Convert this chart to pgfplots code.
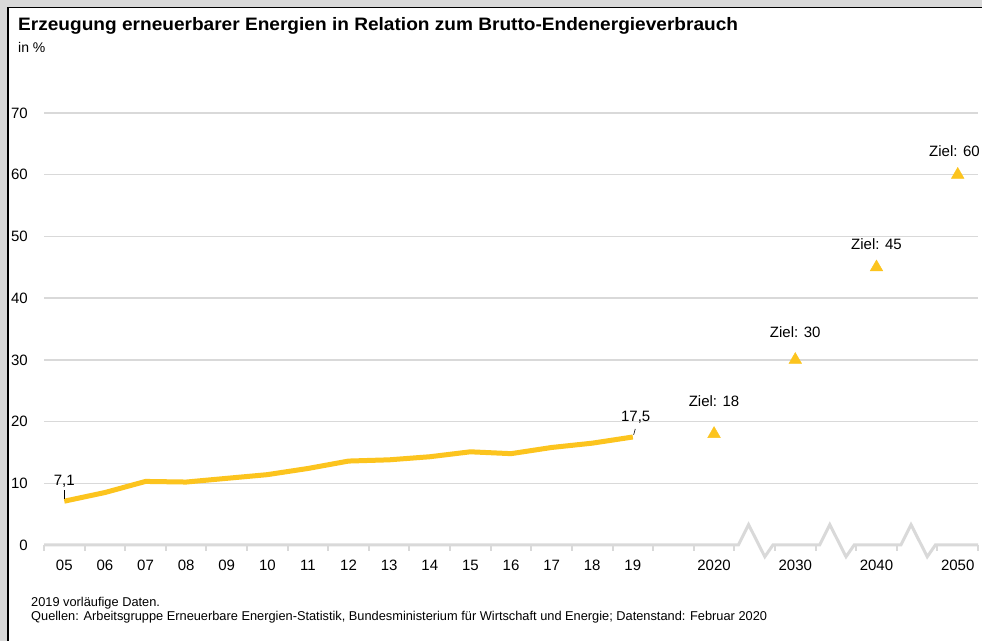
\documentclass[border=0pt]{standalone}
\usepackage{pgfplots}
\pgfplotsset{compat=1.18}
\usepackage{fontspec}
\setmainfont{Liberation Sans}
\definecolor{ylw}{RGB}{252,196,30}
\definecolor{lgray}{RGB}{217,217,217}
\definecolor{bggray}{RGB}{217,217,217}
\begin{document}
\begin{tikzpicture}[x=1bp,y=1bp]
\path[use as bounding box, clip] (0,0) rectangle (982,641);
\fill[bggray] (0,0) rectangle (982,641);
\filldraw[fill=white, draw=black, line width=1.5bp] (8,-10) rectangle (1000,633.5);
\node[anchor=base west, inner sep=0, font=\bfseries\fontsize{18bp}{20bp}\selectfont] at (18,610) {\scalebox{1.06}[1]{Erzeugung erneuerbarer Energien in Relation zum Brutto-Endenergieverbrauch}};
\node[anchor=base west, inner sep=0, font=\fontsize{14bp}{16bp}\selectfont] at (18,588) {in \%};
\begin{axis}[at={(44bp,96bp)}, anchor=south west, scale only axis,
  width=934bp, height=432bp,
  xmin=-0.5, xmax=22.5, ymin=0, ymax=70,
  clip=false,
  axis line style={draw=none},
  xtick={0,...,14,16,18,20,22},
  xticklabels={05,06,07,08,09,10,11,12,13,14,15,16,17,18,19,2020,2030,2040,2050},
  minor xtick={-0.5,0.5,...,22.5},
  ytick={10,20,...,70},
  extra y ticks={0}, extra y tick style={grid=none},
  ymajorgrids, grid style={lgray, line width=1.5bp},
  major tick length=0pt, minor tick length=6bp, tick align=outside,
  xtick pos=lower, ytick pos=left,
  minor tick style={lgray, line width=2bp},
  tick label style={font=\fontsize{15bp}{18bp}\selectfont, text=black},
  xticklabel style={anchor=base, inner sep=0pt, yshift=-26bp},
  yticklabel style={anchor=east, inner sep=0pt, xshift=-16bp},
  /pgf/number format/assume math mode=true,
]
\addplot[lgray, line width=3bp, mark=none] coordinates {(-0.5,0)(16.6,0)(16.85,3.3)(17.25,-1.9)(17.45,0)(18.6,0)(18.85,3.3)(19.25,-1.9)(19.45,0)(20.6,0)(20.85,3.3)(21.25,-1.9)(21.45,0)(22.5,0)};
\addplot[ylw, line width=5bp, line join=round, mark=none] coordinates {(0,7.1)(1,8.5)(2,10.3)(3,10.2)(4,10.8)(5,11.4)(6,12.4)(7,13.6)(8,13.8)(9,14.3)(10,15.1)(11,14.8)(12,15.8)(13,16.5)(14,17.5)};
\addplot[only marks, mark=triangle*, mark size=7.3bp, ylw] coordinates {(16,18)(18,30)(20,45)(22,60)};
\draw[black, line width=0.6bp] (axis cs:0,7.5) -- (axis cs:0,8.9);
\draw[black, line width=0.6bp] (axis cs:14.02,17.85) -- (axis cs:14.06,18.8);
\node[anchor=base, inner sep=0, font=\fontsize{15bp}{18bp}\selectfont] at (axis cs:0,9.7) {7,1};
\node[anchor=base, inner sep=0, font=\fontsize{15bp}{18bp}\selectfont] at (axis cs:14.07,19.98) {17,5};
\node[font=\fontsize{15bp}{18bp}\selectfont] at (axis cs:16,23.3) {Ziel: 18};
\node[font=\fontsize{15bp}{18bp}\selectfont] at (axis cs:18,34.5) {Ziel: 30};
\node[font=\fontsize{15bp}{18bp}\selectfont] at (axis cs:20,48.8) {Ziel: 45};
\node[anchor=east, inner sep=0, font=\fontsize{15bp}{18bp}\selectfont, xshift=2bp] at (axis cs:22.5,63.9) {Ziel: 60};
\end{axis}
\node[anchor=base west, inner sep=0, font=\fontsize{12.8bp}{14bp}\selectfont] at (31,34) {2019 vorläufige Daten.};
\node[anchor=base west, inner sep=0, font=\fontsize{12.8bp}{14bp}\selectfont] at (31,20) {Quellen: Arbeitsgruppe Erneuerbare Energien-Statistik, Bundesministerium für Wirtschaft und Energie; Datenstand: Februar 2020};
\end{tikzpicture}
\end{document}
